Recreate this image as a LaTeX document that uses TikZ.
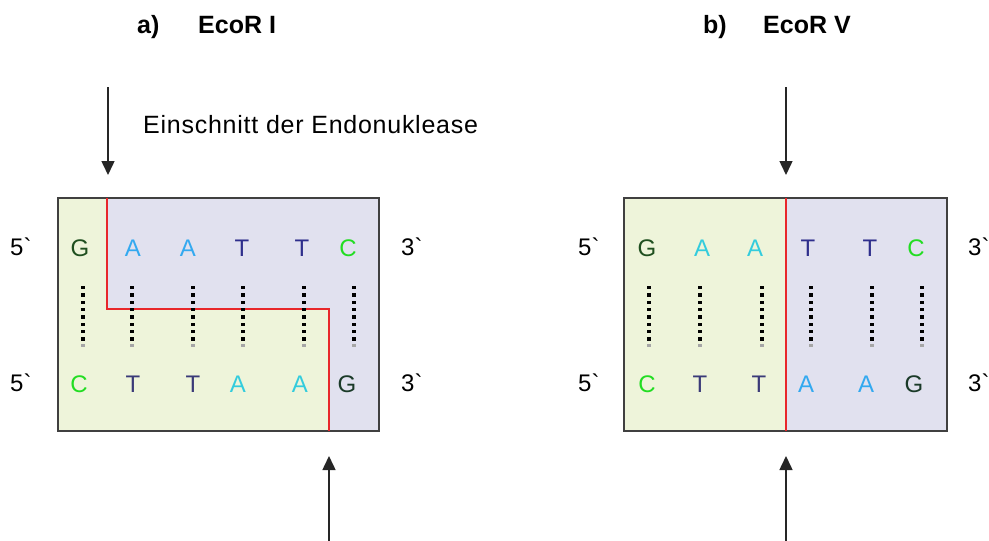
\documentclass[tikz,border=0pt]{standalone}
\usepackage{fontspec}
\setmainfont{Liberation Sans}
\usetikzlibrary{arrows.meta}
\definecolor{fillL}{HTML}{EEF4DA}
\definecolor{fillR}{HTML}{E1E1EF}
\definecolor{framec}{HTML}{404040}
\definecolor{cutc}{HTML}{E8272A}
\definecolor{colG}{HTML}{1F4F1F}
\definecolor{colGb}{HTML}{1A3A28}
\definecolor{colAb}{HTML}{33A9F0}
\definecolor{colAt}{HTML}{33CCDD}
\definecolor{colT}{HTML}{2E2E8C}
\definecolor{colTb}{HTML}{3A3A78}
\definecolor{colC}{HTML}{22DD22}
\newfontfamily\notefont[LetterSpace=3]{Liberation Sans}
\tikzset{
  base/.style={inner sep=0pt, anchor=base},
  nuc/.style={base, font=\fontsize{24}{24}\selectfont},
  endlbl/.style={base, font=\fontsize{24}{24}\selectfont, anchor=base west},
  title/.style={base, anchor=base west, font=\fontsize{25}{25}\selectfont\bfseries},
  note/.style={base, anchor=base west, font=\notefont\fontsize{25}{25}\selectfont},
  frame/.style={draw=framec, line width=1.4pt, inner sep=0pt, fill=none},
  cutline/.style={draw=cutc, line width=1.4pt},
  arr/.style={draw=black!85, line width=1.5pt, -{Triangle[length=14pt, width=13pt]}},
}
\newcommand{\bondcol}[1]{%
  \foreach \k in {0,...,7}{\fill[black] (#1-1.8,286+7.3*\k) rectangle ++(3.6,3.4);}
  \fill[gray!70] (#1-1.8,286+7.3*8) rectangle ++(3.6,3.0);}
\begin{document}
\begin{tikzpicture}[x=1pt,y=-1pt]
\useasboundingbox (0,0) rectangle (989,541);
% titles
\node[title] (ta) at (137,33) {a)};
\node[title] (tna) at (198,33) {EcoR I};
\node[title] (tb) at (703,33) {b)};
\node[title] (tnb) at (763,33) {EcoR V};
\node[note] (note) at (143,133) {Einschnitt der Endonuklease};
% box a fills
\fill[fillL] (58,198) -- (107,198) -- (107,309) -- (329,309) -- (329,431) -- (58,431) -- cycle;
\fill[fillR] (107,198) -- (379,198) -- (379,431) -- (329,431) -- (329,309) -- (107,309) -- cycle;
\node[frame, minimum width=321pt, minimum height=233pt] (boxa) at (218.5,314.5) {};
\draw[cutline] (107,198) -- (107,309) -- (329,309) -- (329,431);
% box b fills
\fill[fillL] (624,198) rectangle (786,431);
\fill[fillR] (786,198) rectangle (947,431);
\node[frame, minimum width=323pt, minimum height=233pt] (boxb) at (785.5,314.5) {};
\draw[cutline] (786,198) -- (786,431);
% bonds
\foreach \x in {83,132,193,243,304,354,649,700,762,811,872,922}{\bondcol{\x}}
% letters a
\node[nuc, text=colG] (a1) at (80,256) {G};
\node[nuc, text=colAb] (a2) at (133,256) {A};
\node[nuc, text=colAb] (a3) at (188,256) {A};
\node[nuc, text=colT] (a4) at (242,256) {T};
\node[nuc, text=colT] (a5) at (302,256) {T};
\node[nuc, text=colC] (a6) at (348,256) {C};
\node[nuc, text=colC] (b1) at (79,392) {C};
\node[nuc, text=colTb] (b2) at (133,392) {T};
\node[nuc, text=colTb] (b3) at (193,392) {T};
\node[nuc, text=colAt] (b4) at (238,392) {A};
\node[nuc, text=colAt] (b5) at (300,392) {A};
\node[nuc, text=colGb] (b6) at (347,392) {G};
% letters b
\node[nuc, text=colG] (c1) at (647,256) {G};
\node[nuc, text=colAt] (c2) at (702,256) {A};
\node[nuc, text=colAt] (c3) at (755,256) {A};
\node[nuc, text=colT] (c4) at (808,256) {T};
\node[nuc, text=colT] (c5) at (870,256) {T};
\node[nuc, text=colC] (c6) at (916,256) {C};
\node[nuc, text=colC] (d1) at (647,392) {C};
\node[nuc, text=colTb] (d2) at (700,392) {T};
\node[nuc, text=colTb] (d3) at (759,392) {T};
\node[nuc, text=colAb] (d4) at (806,392) {A};
\node[nuc, text=colAb] (d5) at (866,392) {A};
\node[nuc, text=colGb] (d6) at (914,392) {G};
% end labels
\node[endlbl] (l1) at (10,255) {5\textasciigrave};
\node[endlbl] (l2) at (10,391) {5\textasciigrave};
\node[endlbl] (r1) at (401,255) {3\textasciigrave};
\node[endlbl] (r2) at (401,391) {3\textasciigrave};
\node[endlbl] (l3) at (578,255) {5\textasciigrave};
\node[endlbl] (l4) at (578,391) {5\textasciigrave};
\node[endlbl] (r3) at (968,255) {3\textasciigrave};
\node[endlbl] (r4) at (968,391) {3\textasciigrave};
% arrows
\coordinate (p1s) at (108,87);  \coordinate (p1e) at (108,175);
\coordinate (p2s) at (786,87);  \coordinate (p2e) at (786,175);
\coordinate (p3s) at (329,541); \coordinate (p3e) at (329,456);
\coordinate (p4s) at (786,541); \coordinate (p4e) at (786,456);
\draw[arr] (p1s) -- (p1e);
\draw[arr] (p2s) -- (p2e);
\draw[arr] (p3s) -- (p3e);
\draw[arr] (p4s) -- (p4e);
\end{tikzpicture}
\end{document}
